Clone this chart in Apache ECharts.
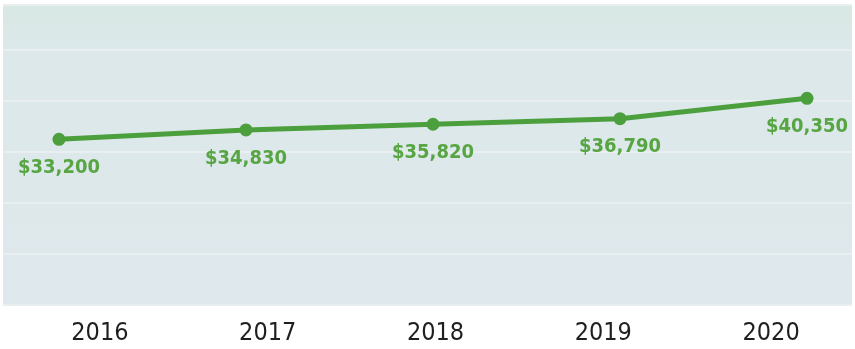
<!DOCTYPE html>
<html>
<head>
<meta charset="utf-8">
<script src="https://cdn.jsdelivr.net/npm/echarts@6/dist/echarts.min.js"></script>
<style>
  html, body { margin: 0; padding: 0; background: #ffffff; }
  #chart { width: 855px; height: 349px; }
</style>
</head>
<body>
<div id="chart"></div>
<script>
// Yearly values shown on the trend line
const years = ['2016', '2017', '2018', '2019', '2020'];
const values = [33200, 34830, 35820, 36790, 40350];

// Value range of the plot and spacing of the horizontal rules
const valueMin = 4300;
const valueMax = 56620;
const ruleStep = 8900;

const GREEN = '#4c9f3d';
const LABEL_GREEN = '#58a543';
const FONT = '"Liberation Sans Narrow", "DejaVu Sans Condensed", Roboto, sans-serif';

const chart = echarts.init(document.getElementById('chart'), null, { renderer: 'canvas' });

const fmt = v => '$' + v.toLocaleString('en-US');

chart.setOption({
  animation: false,
  backgroundColor: '#ffffff',
  grid: [
    // panel with background and rules
    {
      left: 3, right: 3, top: 5, bottom: 44, show: true, borderWidth: 0,
      backgroundColor: new echarts.graphic.LinearGradient(0, 0, 0, 1, [
        { offset: 0, color: '#d8e8e3' },
        { offset: 0.15, color: '#dce8ea' },
        { offset: 1, color: '#dfe8ec' }
      ])
    },
    // data line
    { left: 59, right: 48, top: 5, bottom: 44 },
    // year labels
    { left: 16, width: 860, top: 5, bottom: 44 }
  ],
  xAxis: [
    { gridIndex: 0, type: 'value', show: false, min: 0, max: 1 },
    {
      gridIndex: 1, type: 'category', data: years, boundaryGap: false,
      show: false
    },
    {
      gridIndex: 2, type: 'category', data: years, boundaryGap: true,
      axisLine: { show: false }, axisTick: { show: false },
      axisLabel: {
        margin: 16,
        color: '#1f1f1f',
        fontSize: 25,
        fontFamily: FONT
      }
    }
  ],
  yAxis: [
    {
      gridIndex: 0, type: 'value', min: 0, max: valueMax - valueMin, interval: ruleStep,
      axisLine: { show: false }, axisTick: { show: false }, axisLabel: { show: false },
      splitLine: { show: true, lineStyle: { color: '#e9eff1', width: 2 } }
    },
    {
      gridIndex: 1, type: 'value', min: valueMin, max: valueMax, show: false,
      splitLine: { show: false }
    },
    {
      gridIndex: 2, type: 'value', show: false, splitLine: { show: false }
    }
  ],
  series: [
    {
      type: 'line',
      xAxisIndex: 1,
      yAxisIndex: 1,
      data: values,
      symbol: 'circle',
      symbolSize: 13,
      lineStyle: { color: GREEN, width: 5 },
      itemStyle: { color: GREEN },
      label: {
        show: true,
        position: 'bottom',
        distance: 12,
        formatter: p => fmt(p.value),
        color: LABEL_GREEN,
        fontSize: 20,
        fontWeight: 'bold',
        fontFamily: FONT
      }
    }
  ]
});
</script>
</body>
</html>
